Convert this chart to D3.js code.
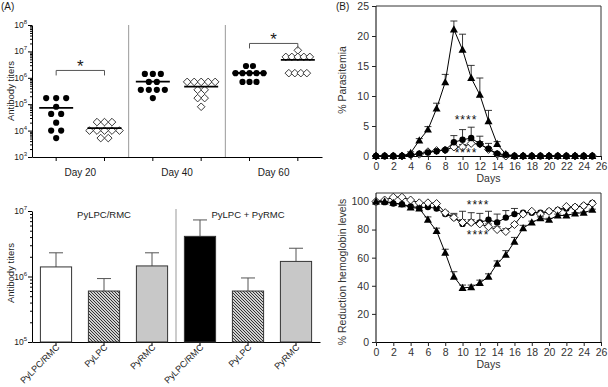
<!DOCTYPE html>
<html>
<head>
<meta charset="utf-8">
<script src="https://cdn.jsdelivr.net/npm/d3@7"></script>
<style>
body { margin: 0; background: #fff; }
svg { font-family: "Liberation Sans", Arial, sans-serif; }
</style>
</head>
<body>
<div id="chart-area"></div>
<script>
// ---- data (A, top: antibody titers per mouse) ----
var dayGroups = ["Day 20", "Day 40", "Day 60"];
var day20Filled = [1.7e5, 1.7e5, 1.7e5, 8e4, 4.3e4, 4.3e4, 2e4, 1e4, 1e4, 5.2e3];
var day20Open   = [2.1e4, 2.1e4, 2.1e4, 1e4, 1e4, 1e4, 1e4, 1e4, 5.2e3, 5.2e3];
var day40Filled = [1.4e6, 1.4e6, 1.4e6, 7e5, 7e5, 3.5e5, 3.5e5, 3.5e5, 3.5e5, 1.7e5];
var day40Open   = [7e5, 7e5, 7e5, 7e5, 7e5, 3.5e5, 3.5e5, 1.7e5, 1.7e5, 8e4];
var day60Filled = [2.8e6, 2.8e6, 1.5e6, 1.5e6, 1.5e6, 1.5e6, 1.5e6, 7e5, 7e5, 7e5];
var day60Open   = [1.1e7, 6.2e6, 6.2e6, 6.2e6, 6.2e6, 6.2e6, 1.5e6, 1.5e6, 1.5e6, 1.5e6];

// ---- data (A, bottom: bars) ----
var barLabels = ["PyLPC/RMC", "PyLPC", "PyRMC", "PyLPC/RMC", "PyLPC", "PyRMC"];
var barMeans  = [1.4e6, 6e5, 1.45e6, 4.1e6, 6e5, 1.7e6];
var barSem    = [0.9e6, 3.3e5, 0.85e6, 3.2e6, 3.5e5, 1.0e6];
var barSets   = ["PyLPC/RMC", "PyLPC + PyRMC"];

// ---- data (B) ----
var days = [0,1,2,3,4,5,6,7,8,9,10,11,12,13,14,15,16,17,18,19,20,21,22,23,24,25];
var triPara     = [0,0,0,0,0.5,2.6,4.4,7.9,12.3,21.1,17.7,13.0,10.2,5.8,2.0,0.3,0,0,0,0,0,0,0,0,0,0];
var triParaErr  = [0,0,0,0,0.2,0.3,0.5,0.9,1.3,1.4,2.6,2.1,2.8,1.8,0.4,0,0,0,0,0,0,0,0,0,0,0];
var circPara    = [0,0,0,0,0.2,0.4,0.6,0.8,1.0,2.3,2.7,3.0,2.0,1.2,0.4,0.2,0,0,0,0,0,0,0,0,0,0];
var circParaErr = [0,0,0,0,0,0,0,0,0.2,1.1,1.7,1.8,1.3,0.9,0.2,0,0,0,0,0,0,0,0,0,0,0];
var diaPara     = [0,0,0,0,0.2,0.3,0.7,0.9,1.0,1.5,1.5,2.1,2.0,1.1,0.3,0,0,0,0,0,0,0,0,0,0,0];
var diaParaErr  = [0,0,0,0,0,0,0,0,0,0.3,0.4,0.5,0.4,0.3,0,0,0,0,0,0,0,0,0,0,0,0];

var triHb     = [100,100,99,98,95.7,95,87,79,63.5,46.5,38.5,39,42,46.5,55.7,62,71.4,81,85,88,87,90,90,91.5,92,94];
var triHbErr  = [0,0,0,0,1,1,2,2,2.5,3.5,2,1.5,2,2,2,3,3,2,1,1,1,1,0.5,0.5,0.5,0.5];
var circHb    = [99.5,99.5,98.5,98,96.5,95.5,96,95,91,88.5,84,85,85,87,85,88.5,91,92,92,92,93,94,95,96,97,99];
var circHbErr = [0,0,0,0,0,0,0,1,1.5,3,9,7,6.5,6,6,5,4,0,0,0,0,0,0,0,0,0];
var diaHb     = [100,101,103,103,101,99,99,98.5,92,88.5,85,85,84,82,80,78.6,83.6,91,93,91,93,93.6,96.4,96,97,98.6];
var diaHbErr  = [0,0,0,0,0,0,0,0,1,2,2,2,2,2,2,2,1,0,0,0,0,0,0,0,0,0];

var svg = d3.select("#chart-area").append("svg")
    .attr("width", 608)
    .attr("height", 387);

var ink = "#1a1a1a";

// hatch pattern
var defs = svg.append("defs");
var pat = defs.append("pattern")
    .attr("id", "hatch")
    .attr("patternUnits", "userSpaceOnUse")
    .attr("width", 3).attr("height", 3);
pat.append("rect").attr("width", 3).attr("height", 3).attr("fill", "#d0d0d0");
pat.append("path")
    .attr("d", "M-1,-1 L4,4 M2,-1 L4,1 M-1,2 L1,4")
    .attr("stroke", "#222").attr("stroke-width", 0.9);

function diamond(r) {
    return "M0," + (-r) + "L" + r + ",0L0," + r + "L" + (-r) + ",0Z";
}

// superscript power label
function powLabel(g, x, y, p, size) {
    var t = g.append("text")
        .attr("x", x).attr("y", y)
        .attr("text-anchor", "end")
        .attr("font-size", size)
        .attr("fill", ink);
    t.append("tspan").text("10");
    t.append("tspan").attr("dy", -4).attr("font-size", size - 2.5).text(p);
}

function logAxis(g, scale, x0, pLo, pHi) {
    var majors = [], minors = [];
    for (var p = pLo; p <= pHi; p++) {
        majors.push(Math.pow(10, p));
        if (p < pHi) {
            for (var k = 2; k <= 9; k++) minors.push(k * Math.pow(10, p));
        }
    }
    g.append("g")
        .attr("transform", "translate(" + x0 + ",0)")
        .call(d3.axisLeft(scale).tickValues(majors).tickFormat("").tickSize(4).tickSizeOuter(0));
    g.append("g")
        .attr("transform", "translate(" + x0 + ",0)")
        .call(d3.axisLeft(scale).tickValues(minors).tickFormat("").tickSize(2).tickSizeOuter(0))
        .select(".domain").remove();
    majors.forEach(function (v, i) {
        powLabel(g, x0 - 5, scale(v) + 3, pLo + i, 8.5);
    });
}

// ================= A top =================
var gA = svg.append("g");
var catsA = ["d20f", "d20o", "d40f", "d40o", "d60f", "d60o"];
var setsA = [day20Filled, day20Open, day40Filled, day40Open, day60Filled, day60Open];
var spreadA = [10, 7.5, 8, 7, 7, 6];

var xA = d3.scaleBand().domain(catsA).range([32, 322]);
var yA = d3.scaleLog().domain([1e3, 1e8]).range([157, 25]);

logAxis(gA, yA, 32, 3, 8);

gA.append("g")
    .attr("transform", "translate(0,157)")
    .call(d3.axisBottom(xA).tickFormat("").tickSize(4).tickSizeOuter(0));

// separators
[2, 4].forEach(function (i) {
    var xs = (xA(catsA[i - 1]) + xA(catsA[i]) + xA.bandwidth()) / 2;
    gA.append("line")
        .attr("x1", xs).attr("x2", xs).attr("y1", 25).attr("y2", 157)
        .attr("stroke", "#999").attr("stroke-width", 1);
});

dayGroups.forEach(function (d, i) {
    var cx = (xA(catsA[2 * i]) + xA(catsA[2 * i + 1])) / 2 + xA.bandwidth() / 2;
    gA.append("text")
        .attr("x", cx).attr("y", 176)
        .attr("text-anchor", "middle").attr("font-size", 10).attr("fill", ink)
        .text(d);
});

setsA.forEach(function (vals, gi) {
    var cx = xA(catsA[gi]) + xA.bandwidth() / 2;
    var rows = d3.group(vals, function (v) { return v; });
    var pts = [];
    rows.forEach(function (arr, v) {
        arr.forEach(function (_, j) {
            pts.push({ x: cx + (j - (arr.length - 1) / 2) * spreadA[gi], v: v });
        });
    });
    var open = gi % 2 === 1;
    var sel = gA.selectAll(".pt" + gi).data(pts).enter();
    if (open) {
        sel.append("path")
            .attr("d", diamond(3.8))
            .attr("transform", function (d) { return "translate(" + d.x + "," + yA(d.v) + ")"; })
            .attr("fill", "#fff").attr("stroke", "#222").attr("stroke-width", 0.9);
    } else {
        sel.append("circle")
            .attr("cx", function (d) { return d.x; })
            .attr("cy", function (d) { return yA(d.v); })
            .attr("r", 3.1).attr("fill", "#000");
    }
    var m = d3.mean(vals);
    gA.append("line")
        .attr("x1", cx - 17).attr("x2", cx + 17)
        .attr("y1", yA(m)).attr("y2", yA(m))
        .attr("stroke", "#000").attr("stroke-width", 1.8);
});

// significance brackets
[[0, 1, 1.9e6], [4, 5, 2e7]].forEach(function (b) {
    var x1 = xA(catsA[b[0]]) + xA.bandwidth() / 2;
    var x2 = xA(catsA[b[1]]) + xA.bandwidth() / 2;
    var yb = yA(b[2]);
    gA.append("path")
        .attr("d", "M" + x1 + "," + (yb + 5) + "V" + yb + "H" + x2 + "V" + (yb + 5))
        .attr("fill", "none").attr("stroke", "#555").attr("stroke-width", 1);
    gA.append("text")
        .attr("x", (x1 + x2) / 2).attr("y", yb + 2)
        .attr("text-anchor", "middle").attr("font-size", 17).attr("fill", ink)
        .text("*");
});

gA.append("text")
    .attr("transform", "translate(14,91) rotate(-90)")
    .attr("text-anchor", "middle").attr("font-size", 9.5).attr("fill", ink)
    .text("Antibody titers");

svg.append("text").attr("x", 1).attr("y", 10).attr("font-size", 10).attr("fill", ink).text("(A)");
svg.append("text").attr("x", 336).attr("y", 10).attr("font-size", 10).attr("fill", ink).text("(B)");

// ================= A bottom =================
var gC = svg.append("g");
var fills = ["#fff", "url(#hatch)", "#c8c8c8", "#000", "url(#hatch)", "#c8c8c8"];
var xC = d3.scaleBand().domain(d3.range(barLabels.length)).range([32, 320])
    .paddingInner(0.35).paddingOuter(0.175);
var yC = d3.scaleLog().domain([1e5, 1e7]).range([342, 211]);

logAxis(gC, yC, 32, 5, 7);

gC.append("g")
    .attr("transform", "translate(0,342)")
    .call(d3.axisBottom(xC).tickFormat("").tickSize(4).tickSizeOuter(0));

// error bars first (behind bars)
barMeans.forEach(function (m, i) {
    var cx = xC(i) + xC.bandwidth() / 2;
    var top = yC(m + barSem[i]);
    gC.append("path")
        .attr("d", "M" + cx + "," + yC(m) + "V" + top + "M" + (cx - 7) + "," + top + "H" + (cx + 7))
        .attr("stroke", "#555").attr("stroke-width", 1).attr("fill", "none");
});

gC.selectAll("rect.bar").data(barMeans).enter()
    .append("rect")
    .attr("class", "bar")
    .attr("x", function (d, i) { return xC(i); })
    .attr("y", function (d) { return yC(d); })
    .attr("width", xC.bandwidth())
    .attr("height", function (d) { return 342 - yC(d); })
    .attr("fill", function (d, i) { return fills[i]; })
    .attr("stroke", "#333").attr("stroke-width", 1);

var sepX = (xC(2) + xC(3) + xC.bandwidth()) / 2;
gC.append("line")
    .attr("x1", sepX).attr("x2", sepX).attr("y1", 209).attr("y2", 342)
    .attr("stroke", "#999").attr("stroke-width", 1);

barLabels.forEach(function (l, i) {
    var cx = xC(i) + xC.bandwidth() / 2;
    gC.append("text")
        .attr("transform", "translate(" + (cx + 4) + ",348) rotate(-45)")
        .attr("text-anchor", "end").attr("font-size", 9).attr("fill", ink)
        .text(l);
});

gC.append("text")
    .attr("x", (xC(0) + xC(2) + xC.bandwidth()) / 2).attr("y", 218)
    .attr("text-anchor", "middle").attr("font-size", 9.5).attr("fill", ink)
    .text(barSets[0]);
gC.append("text")
    .attr("x", xC(4) + xC.bandwidth() / 2).attr("y", 218)
    .attr("text-anchor", "middle").attr("font-size", 9.5).attr("fill", ink)
    .text(barSets[1]);

gC.append("text")
    .attr("transform", "translate(14,273) rotate(-90)")
    .attr("text-anchor", "middle").attr("font-size", 9.5).attr("fill", ink)
    .text("Antibody titers");

// ================= B panels =================
var xB = d3.scaleLinear().domain([0, 26]).range([376, 601]);
var dayTicks = [0,2,4,6,8,10,12,14,16,18,20,22,24,26];

function panelB(yScale, yTicks, y0, yTop, series, ylabel, ylabelY, stars) {
    var g = svg.append("g");
    // box
    g.append("path")
        .attr("d", "M" + xB(0) + "," + yTop + "H" + xB(26) + "V" + y0)
        .attr("fill", "none").attr("stroke", "#333").attr("stroke-width", 1);
    g.append("g")
        .attr("transform", "translate(" + xB(0) + ",0)")
        .call(d3.axisLeft(yScale).tickValues(yTicks).tickSize(4).tickSizeOuter(0))
        .call(function (a) { a.select(".domain").attr("d", "M0," + y0 + "V" + yTop); })
        .selectAll("text").attr("font-size", 10.5).attr("fill", "#333");
    g.append("g")
        .attr("transform", "translate(0," + y0 + ")")
        .call(d3.axisBottom(xB).tickValues(dayTicks).tickSize(4).tickSizeOuter(0))
        .selectAll("text").attr("font-size", 10.5).attr("fill", "#333");
    g.selectAll(".tick line").attr("stroke", "#222");

    g.append("text")
        .attr("x", xB(13)).attr("y", y0 + 26)
        .attr("text-anchor", "middle").attr("font-size", 10.5).attr("fill", "#333")
        .text("Days");
    g.append("text")
        .attr("transform", "translate(" + 346 + "," + ylabelY + ") rotate(-90)")
        .attr("text-anchor", "middle").attr("font-size", 10.5).attr("fill", "#333")
        .text(ylabel);

    var line = d3.line()
        .x(function (d, i) { return xB(days[i]); })
        .y(function (d) { return yScale(d); });

    series.forEach(function (s) {
        // error bars (upward)
        s.vals.forEach(function (v, i) {
            if (s.err[i] > 0) {
                var x = xB(days[i]), t = yScale(v + s.err[i]);
                g.append("path")
                    .attr("d", "M" + x + "," + yScale(v) + "V" + t + "M" + (x - 3.5) + "," + t + "H" + (x + 3.5))
                    .attr("stroke", "#222").attr("stroke-width", 0.9).attr("fill", "none");
            }
        });
        g.append("path")
            .datum(s.vals)
            .attr("d", line)
            .attr("fill", "none").attr("stroke", "#000").attr("stroke-width", 1);
        var pts = g.selectAll(null).data(s.vals).enter();
        if (s.shape === "circle") {
            pts.append("circle")
                .attr("cx", function (d, i) { return xB(days[i]); })
                .attr("cy", function (d) { return yScale(d); })
                .attr("r", 3.2).attr("fill", "#000");
        } else if (s.shape === "diamond") {
            pts.append("path")
                .attr("d", diamond(4))
                .attr("transform", function (d, i) { return "translate(" + xB(days[i]) + "," + yScale(d) + ")"; })
                .attr("fill", "#fff").attr("stroke", "#111").attr("stroke-width", 0.9);
        } else {
            pts.append("path")
                .attr("d", "M0,-4.2L4,3L-4,3Z")
                .attr("transform", function (d, i) { return "translate(" + xB(days[i]) + "," + yScale(d) + ")"; })
                .attr("fill", "#000");
        }
    });

    stars.forEach(function (s) {
        g.append("text")
            .attr("x", xB(s[0])).attr("y", yScale(s[1]))
            .attr("dy", "0.55em")
            .attr("text-anchor", "middle").attr("font-size", 12)
            .attr("letter-spacing", 1).attr("fill", "#111")
            .text("****");
    });
}

var yB1 = d3.scaleLinear().domain([0, 25]).range([156, 6]);
panelB(yB1, [0, 5, 10, 15, 20, 25], 156, 6, [
    { vals: diaPara, err: diaParaErr, shape: "diamond" },
    { vals: circPara, err: circParaErr, shape: "circle" },
    { vals: triPara, err: triParaErr, shape: "triangle" }
], "% Parasitemia", 80, [[10.4, 6.4], [10.4, 0.9]]);

var yB2 = d3.scaleLinear().domain([0, 106]).range([342, 193]);
panelB(yB2, [0, 20, 40, 60, 80, 100], 342, 193, [
    { vals: circHb, err: circHbErr, shape: "circle" },
    { vals: diaHb, err: diaHbErr, shape: "diamond" },
    { vals: triHb, err: triHbErr, shape: "triangle" }
], "% Reduction hemoglobin levels", 272, [[11.8, 99.5], [11.8, 78]]);
</script>
</body>
</html>
